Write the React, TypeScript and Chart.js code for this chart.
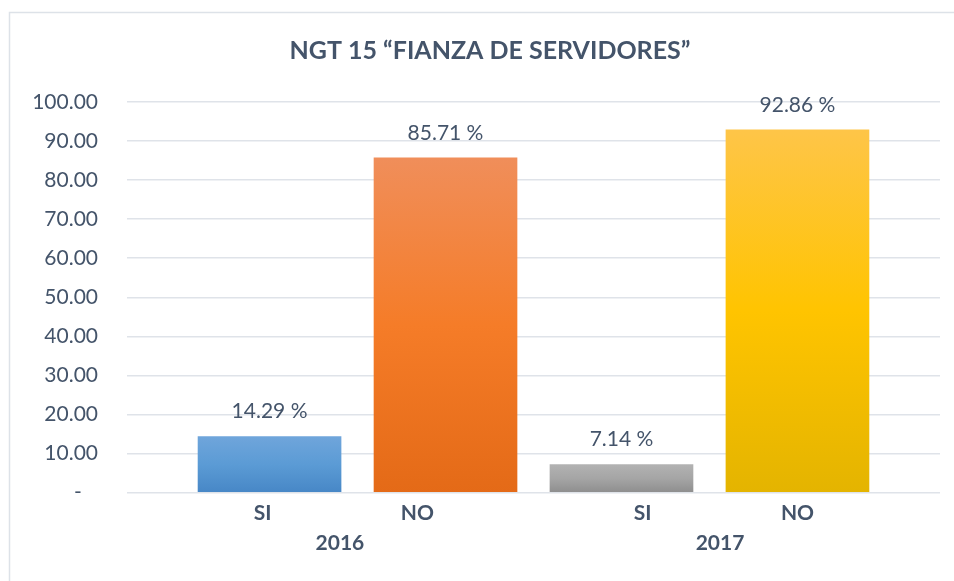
import React, { useEffect, useRef } from "react";
import { Chart, registerables } from "chart.js";

Chart.register(...registerables);

const chartTitle = "NGT 15 \u201CFIANZA DE SERVIDORES\u201D";
const categories = ["SI", "NO", "SI", "NO"];
const years = ["2016", "2017"];
const values = [14.29, 85.71, 7.14, 92.86];
const yMin = 0;
const yMax = 100;
const yStep = 10;

const TEXT = "#44546a";
const FONT = "Lato, 'Open Sans', sans-serif";

// top, middle, bottom gradient stops per bar
const barGradients = [
  ["#6fa5db", "#5b9bd5", "#4787c6"],
  ["#f08e5a", "#f57c28", "#e46a17"],
  ["#b2b2b2", "#a5a5a5", "#8e8e8e"],
  ["#fec548", "#ffc400", "#e4b400"],
];

// small horizontal label offsets (in category units) mimicking the original layout
const catLabelShift = [-0.04, -0.16, 0.12, 0.0];

export default function App() {
  const ref = useRef<HTMLCanvasElement | null>(null);

  useEffect(() => {
    const canvas = ref.current;
    if (!canvas) return;

    const decor = {
      id: "decor",
      beforeDraw(chart: any) {
        const c = chart.ctx;
        c.save();
        c.fillStyle = "#ffffff";
        c.fillRect(0, 0, chart.width, chart.height);
        c.strokeStyle = "#dde2e8";
        c.lineWidth = 1.5;
        c.strokeRect(9.5, 12.5, 1100, 1100);
        c.restore();
      },
      afterDatasetsDraw(chart: any) {
        const c = chart.ctx;
        const meta = chart.getDatasetMeta(0);
        const xs = chart.scales.x;
        c.save();
        // value labels
        c.fillStyle = TEXT;
        c.font = `21px ${FONT}`;
        c.textAlign = "center";
        c.textBaseline = "middle";
        meta.data.forEach((bar: any, i: number) => {
          c.fillText(`${values[i].toFixed(2)} %`, bar.x, bar.y - 25);
        });
        // category labels
        c.font = `bold 21px ${FONT}`;
        const catY = 513;
        const yearY = 543;
        const px: number[] = [];
        categories.forEach((lab, i) => {
          const x = xs.getPixelForValue(i + catLabelShift[i]);
          px.push(x);
          c.fillText(lab, x, catY);
        });
        years.forEach((yr, g) => {
          const x = (px[g * 2] + px[g * 2 + 1]) / 2;
          c.fillText(yr, x, yearY);
        });
        // title
        c.font = `bold 25px ${FONT}`;
        c.fillText(chartTitle, 490, 51);
        c.restore();
      },
    };

    const chart = new Chart(canvas, {
      type: "bar",
      data: {
        datasets: [
          {
            data: values.map((v, i) => ({ x: i, y: v })),
            barThickness: 143,
            borderWidth: 0,
            backgroundColor: (ctx: any) => {
              const i = ctx.dataIndex ?? 0;
              const stops = barGradients[i % barGradients.length];
              const chart = ctx.chart;
              if (!chart.chartArea || ctx.type !== "data") return stops[1];
              const ys = chart.scales.y;
              const top = ys.getPixelForValue(ctx.parsed.y);
              const bottom = ys.getPixelForValue(0);
              if (!isFinite(top) || !isFinite(bottom) || top === bottom) return stops[1];
              const g = chart.ctx.createLinearGradient(0, top, 0, bottom);
              g.addColorStop(0, stops[0]);
              g.addColorStop(0.5, stops[1]);
              g.addColorStop(1, stops[2]);
              return g;
            },
          } as any,
        ],
      },
      options: {
        responsive: false,
        animation: false,
        devicePixelRatio: 1,
        layout: { padding: { top: 102, right: 14, bottom: 88.5, left: 0 } },
        plugins: {
          legend: { display: false },
          title: { display: false },
          tooltip: { enabled: false },
        },
        scales: {
          x: {
            type: "linear",
            display: false,
            offset: false,
            min: -0.81,
            max: 3.81,
          },
          y: {
            min: yMin,
            max: yMax,
            border: { display: false },
            grid: { color: "#dfe3e9", lineWidth: 1.5, drawTicks: false },
            ticks: {
              stepSize: yStep,
              padding: 29,
              color: TEXT,
              font: { family: FONT, size: 21 },
              callback: (v: any) => (Number(v) === 0 ? "-   " : Number(v).toFixed(2)),
            },
            afterFit: (scale: any) => {
              scale.width = 127;
            },
          },
        },
      } as any,
      plugins: [decor],
    });

    return () => chart.destroy();
  }, []);

  return (
    <div
      style={{
        position: "fixed",
        left: 0,
        top: 0,
        width: 954,
        height: 581,
        overflow: "hidden",
        background: "#fff",
      }}
    >
      <canvas ref={ref} width={954} height={581} style={{ width: 954, height: 581, display: "block" }} />
    </div>
  );
}
